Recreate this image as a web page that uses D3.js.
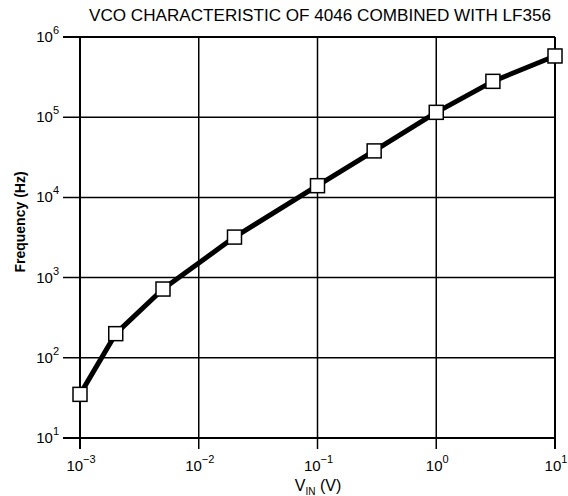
<!DOCTYPE html>
<html><head><meta charset="utf-8">
<script src="https://cdn.jsdelivr.net/npm/d3@7"></script>
<style>
body{margin:0;background:#fff;}
text{font-family:"Liberation Sans",Arial,Helvetica,sans-serif;fill:#000;}
</style></head>
<body><svg id="c" width="568" height="496"></svg>
<script>
const vin = [0.001, 0.002, 0.005, 0.02, 0.1, 0.3, 1, 3, 10];
const freq = [35, 200, 720, 3200, 14000, 38000, 115000, 280000, 580000];
const xTickVals = [1e-3, 1e-2, 1e-1, 1e0, 1e1];
const xTickExp = ["−3", "−2", "−1", "0", "1"];
const yTickVals = [1e1, 1e2, 1e3, 1e4, 1e5, 1e6];
const yTickExp = ["1", "2", "3", "4", "5", "6"];

const svg = d3.select("#c");
const L = 80, R = 555, T = 37, B = 438;
const x = d3.scaleLog().domain([1e-3, 1e1]).range([L, R]);
const y = d3.scaleLog().domain([1e1, 1e6]).range([B, T]);

// grid
svg.append("g").selectAll("line").data(xTickVals).join("line")
  .attr("x1", d => x(d)).attr("x2", d => x(d)).attr("y1", T).attr("y2", B + 11)
  .attr("stroke", "#000").attr("stroke-width", d => (d === 1e-3 || d === 1e1) ? 2 : 1.5);
svg.append("g").selectAll("line").data(yTickVals).join("line")
  .attr("x1", L - 17).attr("x2", R).attr("y1", d => y(d)).attr("y2", d => y(d))
  .attr("stroke", "#000").attr("stroke-width", d => (d === 1e1 || d === 1e6) ? 2 : 1.5);

// x tick labels
const xl = svg.append("g").selectAll("text").data(xTickVals).join("text")
  .attr("x", d => x(d) + 1).attr("y", 471).attr("text-anchor", "middle")
  .attr("font-size", 15);
xl.append("tspan").text("10");
xl.append("tspan").attr("dy", -8).attr("font-size", 11).text((d, i) => xTickExp[i]);

// y tick labels
const yl = svg.append("g").selectAll("text").data(yTickVals).join("text")
  .attr("x", L - 21).attr("y", d => y(d) + 5).attr("text-anchor", "end")
  .attr("font-size", 15);
yl.append("tspan").text("10");
yl.append("tspan").attr("dy", -8).attr("font-size", 11).text((d, i) => yTickExp[i]);

// line
const line = d3.line().x((d, i) => x(vin[i])).y(d => y(d));
svg.append("path").datum(freq).attr("d", line)
  .attr("fill", "none").attr("stroke", "#000").attr("stroke-width", 5)
  .attr("stroke-linejoin", "round");

// markers
svg.append("g").selectAll("rect").data(freq).join("rect")
  .attr("x", (d, i) => x(vin[i]) - 7).attr("y", d => y(d) - 7)
  .attr("width", 14).attr("height", 14)
  .attr("fill", "#fff").attr("stroke", "#000").attr("stroke-width", 1.5);

// title
svg.append("text").attr("x", 320).attr("y", 21).attr("text-anchor", "middle")
  .attr("font-size", 16).attr("textLength", 462).attr("lengthAdjust", "spacingAndGlyphs")
  .text("VCO CHARACTERISTIC OF 4046 COMBINED WITH LF356");

// x axis title
const xt = svg.append("text").attr("x", 318).attr("y", 491).attr("text-anchor", "middle")
  .attr("font-size", 16);
xt.append("tspan").text("V");
xt.append("tspan").attr("font-size", 10).attr("dy", 4).text("IN");
xt.append("tspan").attr("dy", -4).text(" (V)");

// y axis title
svg.append("text").attr("transform", "translate(25,222) rotate(-90)")
  .attr("text-anchor", "middle").attr("font-size", 14).attr("font-weight", "bold")
  .text("Frequency (Hz)");
</script></body></html>
